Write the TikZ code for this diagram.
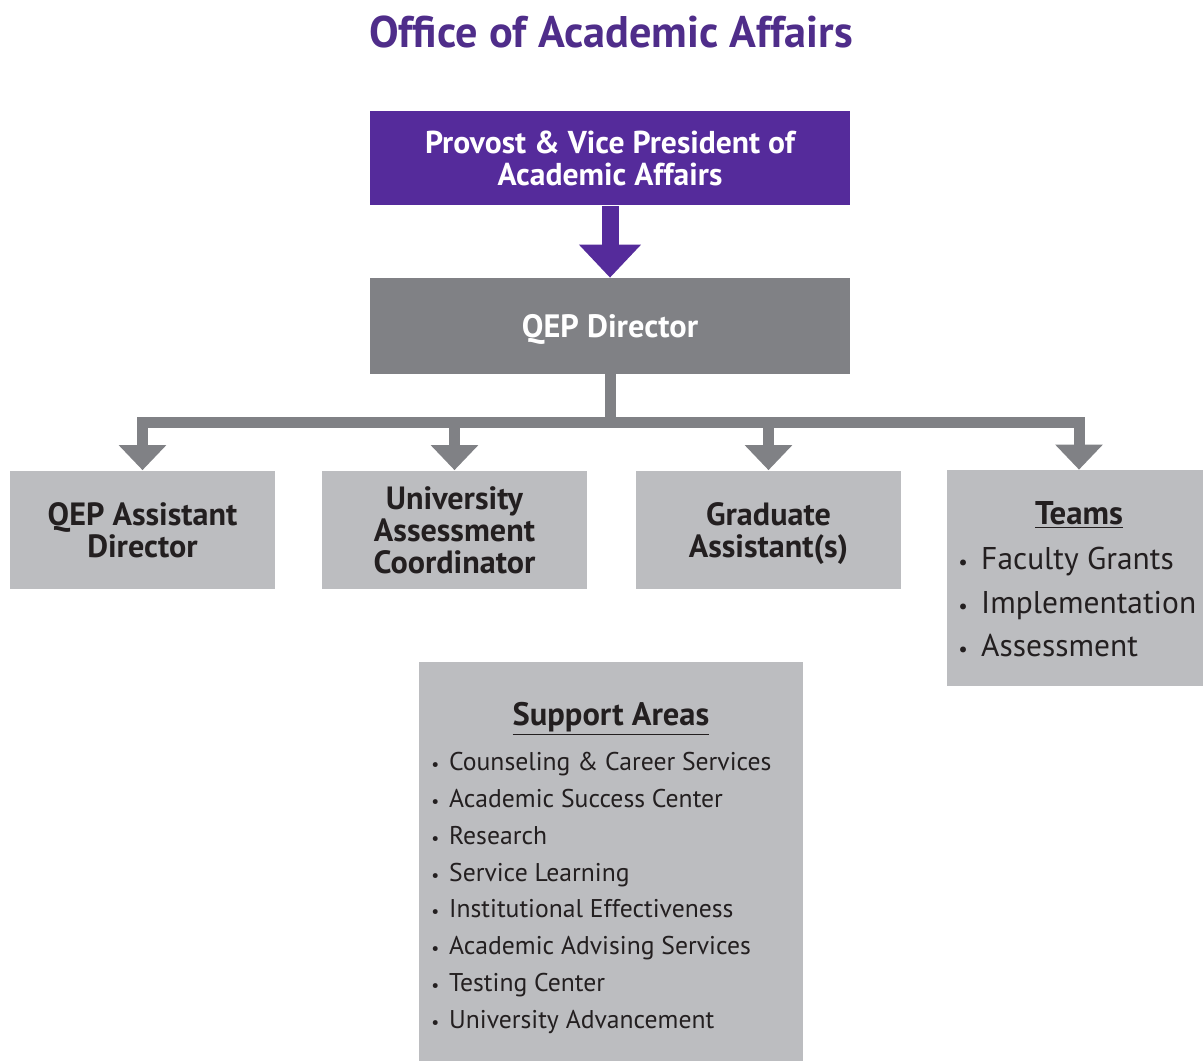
\documentclass[tikz,border=0pt]{standalone}
\usepackage{fontspec}
\setmainfont{PT Sans}
\usepackage{tikz}
\usetikzlibrary{arrows.meta}
\definecolor{titlepurple}{RGB}{79, 45, 138}
\definecolor{provpurple}{RGB}{85, 43, 155}
\definecolor{dirgray}{RGB}{128, 129, 133}
\definecolor{boxgray}{RGB}{188, 189, 192}
\definecolor{inkdark}{RGB}{35, 31, 32}
% small list bullet: size, gap after it
\newcommand{\listdot}[2]{{\fontsize{#1}{#1}\selectfont•}\hspace{#2}}

\begin{document}
\begin{tikzpicture}[x=0.02cm, y=-0.02cm,
    headbox/.style={fill=#1, text=white, inner sep=0pt, minimum width=9.62cm,
      minimum height=1.9cm, align=center, text depth=0pt,
      font=\fontsize{18}{18.2}\selectfont\bfseries},
    subbox/.style={fill=boxgray, text=inkdark, inner sep=0pt, minimum width=5.3cm,
      minimum height=2.38cm, align=center, text depth=0pt,
      font=\fontsize{18.3}{18.2}\selectfont\bfseries},
    purplearr/.style={provpurple, line width=0.34cm,
      -{Triangle[width=1.2cm, length=0.66cm]}},
    grayarr/.style={dirgray, line width=0.22cm, line join=miter,
      -{Triangle[width=0.92cm, length=0.5cm]}}]

\useasboundingbox (0,0) rectangle (1203,1061);

%% ── TITLE ────────────────────────────────────────────────────────────────────
\node[text=titlepurple, font=\fontsize{25.2}{28}\selectfont\bfseries] (title)
  at (611,32) {Office of Academic Affairs};

%% ── TOP TWO LEVELS ───────────────────────────────────────────────────────────
\node[headbox=provpurple] (provost) at (610,158)
  {Provost \& Vice President of\\Academic Affairs};
\node[headbox=dirgray, minimum height=1.92cm,
      font=\fontsize{18.4}{18.4}\selectfont\bfseries] (director) at (610,326)
  {QEP Director};

\draw[purplearr] (provost.south) -- (director.north);

%% ── THIRD LEVEL ──────────────────────────────────────────────────────────────
\node[subbox] (qepad) at (142.5,530) {QEP Assistant\\Director};
\node[subbox] (coord) at (454.5,530) {University\\Assessment\\Coordinator};
\node[subbox] (grad)  at (768.5,530) {Graduate\\Assistant(s)};

% Teams box: title centred, list left aligned
\node[fill=boxgray, inner sep=0pt, minimum width=5.12cm, minimum height=4.32cm]
  (teams) at (1075,578) {};
\node[text=inkdark, font=\fontsize{18.7}{19}\selectfont\bfseries] (teamshead)
  at (1079,515) {\underline{Teams}};
\node[text=inkdark, anchor=west, align=left, inner sep=0pt,
      font=\fontsize{17.9}{25}\selectfont] (teamslist) at (958,602)
  {\listdot{12pt}{7.6pt}Faculty Grants\\
   \listdot{12pt}{7.6pt}Implementation\\
   \listdot{12pt}{7.6pt}Assessment};

% tree connectors from the director
\coordinate (bar) at (610,422);
\draw[grayarr] (director.south) -- (bar) -| (qepad.north);
\draw[grayarr] (director.south) -- (bar) -| (coord.north);
\draw[grayarr] (director.south) -- (bar) -| (grad.north);
\draw[grayarr] (director.south) -- (bar) -| ([xshift=0.08cm]teams.north);

%% ── SUPPORT AREAS ────────────────────────────────────────────────────────────
\node[fill=boxgray, inner sep=0pt, minimum width=7.68cm, minimum height=7.98cm]
  (support) at (611,861.5) {};
\node[text=inkdark, font=\fontsize{18.5}{19}\selectfont\bfseries] (supporthead)
  at (611,719) {\underline{Support Areas}};
\node[text=inkdark, anchor=west, align=left, inner sep=0pt,
      font=\fontsize{14.6}{21}\selectfont] (supportlist) at (431,893)
  {\listdot{10pt}{5.6pt}Counseling \& Career Services\\
   \listdot{10pt}{5.6pt}Academic Success Center\\
   \listdot{10pt}{5.6pt}Research\\
   \listdot{10pt}{5.6pt}Service Learning\\
   \listdot{10pt}{5.6pt}Institutional Effectiveness\\
   \listdot{10pt}{5.6pt}Academic Advising Services\\
   \listdot{10pt}{5.6pt}Testing Center\\
   \listdot{10pt}{5.6pt}University Advancement};

\end{tikzpicture}
\end{document}
